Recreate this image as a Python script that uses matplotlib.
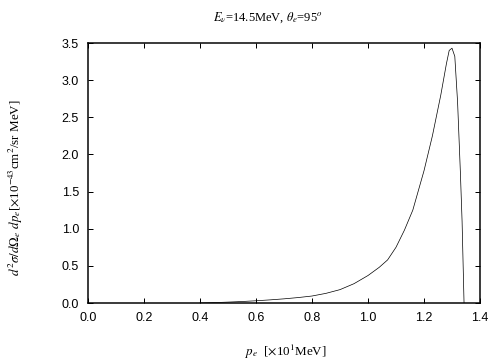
import matplotlib
matplotlib.use("Agg")
import matplotlib.pyplot as plt

pe = [0.40, 0.45, 0.50, 0.55, 0.60, 0.65, 0.70, 0.75, 0.80, 0.85, 0.90, 0.95,
      1.00, 1.04, 1.07, 1.10, 1.13, 1.16, 1.20, 1.23, 1.26, 1.28, 1.29, 1.30,
      1.31, 1.32, 1.33, 1.336, 1.343]
xsec = [0.0, 0.005, 0.012, 0.02, 0.03, 0.042, 0.056, 0.073, 0.094, 0.13, 0.18, 0.26,
        0.37, 0.48, 0.58, 0.75, 0.98, 1.25, 1.78, 2.25, 2.8, 3.22, 3.40, 3.43,
        3.32, 2.7, 1.75, 1.1, 0.0]
xticks = [0.0, 0.2, 0.4, 0.6, 0.8, 1.0, 1.2, 1.4]
yticks = [0.0, 0.5, 1.0, 1.5, 2.0, 2.5, 3.0, 3.5]

plt.rcParams['mathtext.fontset'] = 'stix'
plt.rcParams['font.family'] = ['Liberation Sans', 'DejaVu Sans']

fig = plt.figure(figsize=(7, 5), dpi=72)
ax = fig.add_axes([88/504, 1-303/360, (480-88)/504, (303-43)/360])
ax.plot(pe, xsec, color='black', lw=0.7)
ax.set_xlim(0, 1.4)
ax.set_ylim(0, 3.5)
ax.set_xticks(xticks)
ax.set_yticks(yticks)
ax.set_xticklabels([f"{v:.1f}" for v in xticks])
ax.set_yticklabels([f"{v:.1f}" for v in yticks])
ax.tick_params(direction='in', top=True, right=True, length=5, width=1, labelsize=12.5)
ax.tick_params(axis='x', pad=9)
ax.tick_params(axis='y', pad=9)
for s in ax.spines.values():
    s.set_linewidth(1.5)

serif = ['Liberation Serif', 'DejaVu Serif']
fig.text(268/504, 1 - 18/360, r'$E_\nu$=14.5MeV, $\theta_e$=95$^o$',
         ha='center', va='center', fontsize=12.5, family=serif)
fig.text(286/504, 1 - 352/360, r'$p_e$  [$\times$10$^1$MeV]',
         ha='center', va='center', fontsize=13, family=serif)
fig.text(16/504, 1 - 188/360,
         r'$d^2\sigma/d\Omega_e\ dp_e$[$\times$10$^{-43}$cm$^2$/sr MeV]',
         ha='center', va='center', rotation=90, fontsize=13, family=serif)

fig.savefig('out.png', dpi=72)
